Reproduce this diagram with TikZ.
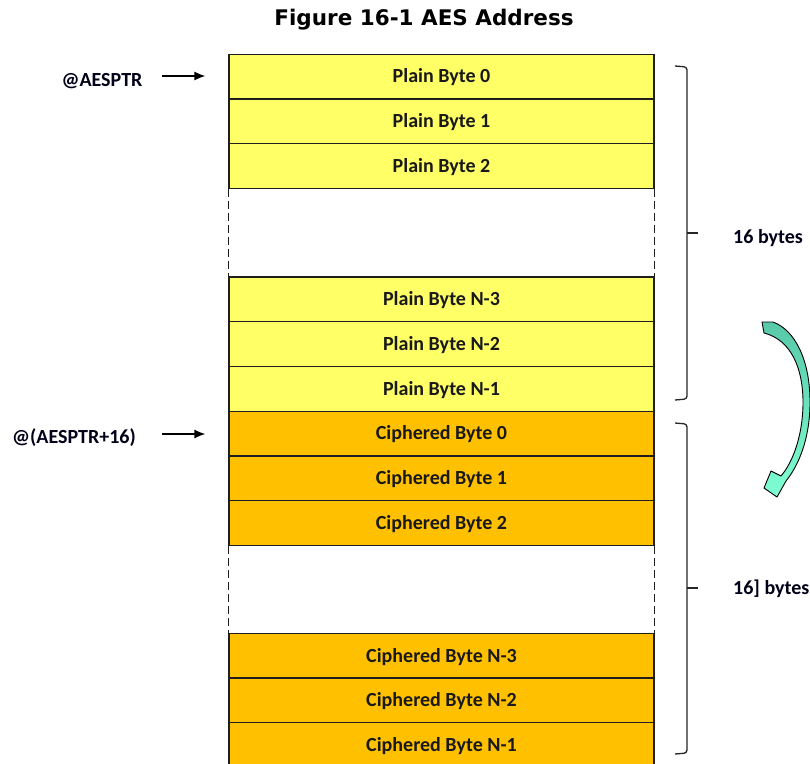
\documentclass[tikz,border=0pt]{standalone}
\usepackage{fontspec}
\setmainfont{Carlito}
\newfontfamily\titlefont{DejaVu Sans}
\usetikzlibrary{arrows.meta}
\definecolor{plainY}{RGB}{255,255,102}
\definecolor{ciphO}{RGB}{255,192,0}
\definecolor{edge}{RGB}{30,30,30}
\definecolor{tealA}{RGB}{88,200,168}
\definecolor{tealB}{RGB}{127,255,212}
\tikzset{
  capfix/.style={text height=12.9pt, text depth=0pt},
  bytebox/.style={draw=edge, line width=1.3pt, minimum width=425pt, minimum height=44.7pt,
    inner sep=0pt, capfix, font=\bfseries\fontsize{20}{22}\selectfont, text=black!90},
  plainbox/.style={bytebox, fill=plainY},
  ciphbox/.style={bytebox, fill=ciphO},
  gapline/.style={draw=edge, line width=1.5pt, dash pattern=on 8pt off 4pt},
  ptr/.style={-{Latex[length=11pt,width=9pt]}, line width=1.3pt, black},
  ptrlab/.style={font=\bfseries\fontsize{20}{22}\selectfont, text=black!90!blue, inner sep=0pt, capfix},
  brace/.style={draw=black!85, line width=1.3pt, rounded corners=3pt},
  bylab/.style={font=\bfseries\fontsize{20}{22}\selectfont, text=black!90!blue, inner sep=0pt, capfix},
}
\begin{document}
\begin{tikzpicture}[x=1pt,y=-1pt]
\useasboundingbox (0,0) rectangle (810,763);
\clip (0,0) rectangle (810,763);
\fill[white] (0,0) rectangle (810,763);
% title
\node[font=\titlefont\bfseries\fontsize{21.5}{23}\selectfont, inner sep=0pt, text height=15.7pt, text depth=0pt] (title) at (424,17.5) {Figure 16-1 AES Address};
% plain boxes
\node[plainbox] (p0) at (441.5,76.5) {Plain Byte 0};
\node[plainbox] (p1) at (441.5,121.2) {Plain Byte 1};
\node[plainbox] (p2) at (441.5,165.9) {Plain Byte 2};
\node[plainbox] (p3) at (441.5,299.4) {Plain Byte N-3};
\node[plainbox] (p4) at (441.5,344.1) {Plain Byte N-2};
\node[plainbox] (p5) at (441.5,388.8) {Plain Byte N-1};
% ciphered boxes
\node[ciphbox] (c0) at (441.5,433.5) {Ciphered Byte 0};
\node[ciphbox] (c1) at (441.5,478.2) {Ciphered Byte 1};
\node[ciphbox] (c2) at (441.5,522.9) {Ciphered Byte 2};
\node[ciphbox] (c3) at (441.5,655.6) {Ciphered Byte N-3};
\node[ciphbox] (c4) at (441.5,700.3) {Ciphered Byte N-2};
\node[ciphbox] (c5) at (441.5,745.0) {Ciphered Byte N-1};
% dashed gaps
\draw[gapline] (p2.south west) -- (p3.north west);
\draw[gapline] (p2.south east) -- (p3.north east);
\draw[gapline] (c2.south west) -- (c3.north west);
\draw[gapline] (c2.south east) -- (c3.north east);
% pointer labels
\node[ptrlab] (l0) at (102,80) {@AESPTR};
\node[ptrlab] (l1) at (74,437.5) {@(AESPTR+16)};
\coordinate (s0) at (162,76);
\coordinate (s1) at (162,434);
\draw[ptr, shorten >=23pt] (s0) -- (s0 -| p0.west);
\draw[ptr, shorten >=23pt] (s1) -- (s1 -| c0.west);
% braces
\draw[brace] (675,66) -- (687,67) -- (687,399) -- (675,400);
\draw[brace] (687,233) -- (698,233);
\draw[brace] (675,423) -- (687,424) -- (687,753) -- (675,754);
\draw[brace] (687,588) -- (698,588);
\node[bylab, anchor=west] (b0) at (733,237) {16 bytes};
\node[bylab, anchor=west] (b1) at (733,587.7) {16] bytes};
% curved arrow
\shade[top color=tealA, bottom color=tealB, draw=black, line width=0.9pt, line join=round]
  (762,322) -- (773,322)
  .. controls (795,330) and (810,360) .. (810,402)
  .. controls (810,440) and (798,466) .. (786,481)
  -- (777,497) -- (764,488) -- (771,471) -- (781,476)
  .. controls (793,462) and (803,435) .. (803,402)
  .. controls (803,370) and (792,340) .. (764,333) -- cycle;
\end{tikzpicture}
\end{document}
